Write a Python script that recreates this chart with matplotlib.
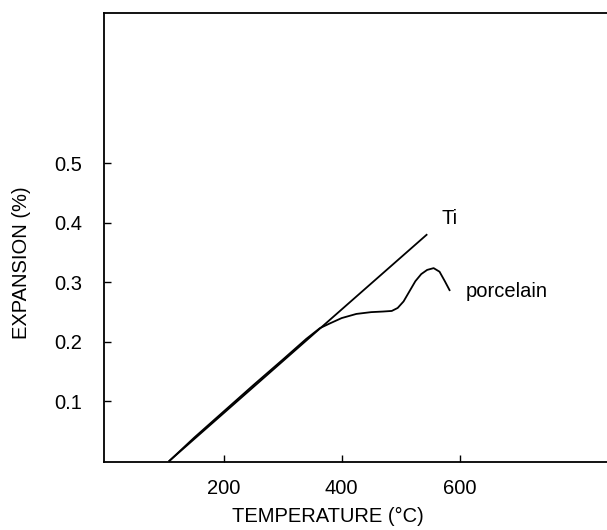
import matplotlib
matplotlib.use("Agg")
import matplotlib.pyplot as plt

# ── Datos ──────────────────────────────────────────────────────────────────────
ti_temp = [108, 544]
ti_exp = [0.0, 0.380]

porc_temp = [108, 150, 200, 250, 300, 340, 363, 380, 400, 425, 450, 470, 485,
             495, 505, 515, 525, 535, 545, 556, 566, 575, 583]
porc_exp = [0.0, 0.039, 0.083, 0.127, 0.170, 0.205, 0.223, 0.231, 0.240, 0.247,
            0.250, 0.251, 0.252, 0.257, 0.268, 0.285, 0.302, 0.314, 0.321, 0.324,
            0.318, 0.302, 0.287]

x_ticks = [200, 400, 600]
y_ticks = [0.1, 0.2, 0.3, 0.4, 0.5]

plt.rcParams["font.family"] = ["Liberation Sans", "DejaVu Sans"]

fig = plt.figure(figsize=(6.07, 5.30), dpi=100)
ax = fig.add_axes([104 / 607, 68 / 530, 1.0 - 104 / 607, 449 / 530])

ax.plot(ti_temp, ti_exp, color="black", lw=1.3)
ax.plot(porc_temp, porc_exp, color="black", lw=1.3)

ax.text(569, 0.407, "Ti", fontsize=14.5, va="center", ha="left")
ax.text(610, 0.284, "porcelain", fontsize=14.5, va="center", ha="left")

ax.set_xlim(-3, 850)
ax.set_ylim(-0.002, 0.753)
ax.set_xticks(x_ticks)
ax.set_yticks(y_ticks)
ax.set_xticklabels([str(t) for t in x_ticks])
ax.set_yticklabels([f"{t:.1f}" for t in y_ticks])
ax.tick_params(axis="both", direction="in", length=5, width=1, labelsize=14.5)
ax.tick_params(axis="x", pad=12)
ax.tick_params(axis="y", pad=16)

ax.spines["right"].set_visible(False)
for s in ["left", "bottom", "top"]:
    ax.spines[s].set_linewidth(1.3)

fig.text(328 / 607, 4 / 530, "TEMPERATURE (°C)", fontsize=14.5, ha="center", va="bottom")
fig.text(22 / 607, 0.505, "EXPANSION (%)", fontsize=14.5, rotation=90,
         ha="center", va="center")

fig.savefig("out.png", dpi=100)
